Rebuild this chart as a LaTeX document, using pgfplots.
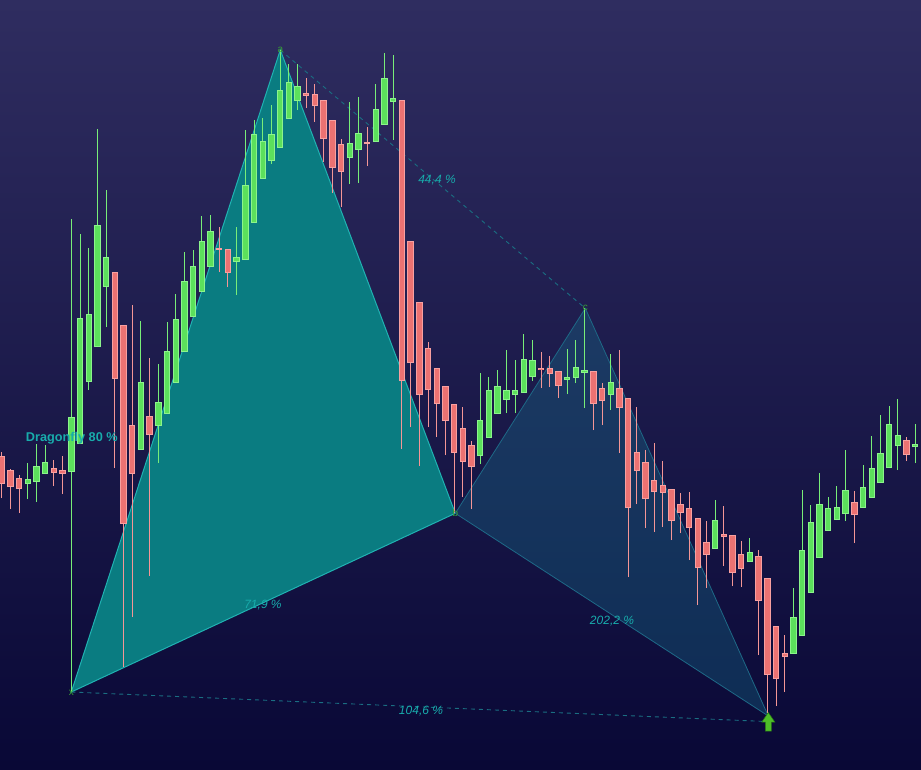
\documentclass[border=0pt]{standalone}
\usepackage{pgfplots}
\pgfplotsset{compat=1.18}
\usepackage{pgfplotstable}
\usepackage{fontspec}
\setmainfont{Liberation Sans}

\definecolor{bgtop}{RGB}{47,45,96}
\definecolor{bgmid}{RGB}{27,25,80}
\definecolor{bgbot}{RGB}{9,8,54}
\definecolor{xabfill}{RGB}{10,124,129}
\definecolor{xabedge}{RGB}{32,178,178}
\definecolor{bcdfill}{RGB}{22,125,150}
\definecolor{bcdedge}{RGB}{30,105,135}
\definecolor{dashcol}{RGB}{26,110,130}
\definecolor{lbl}{RGB}{24,172,172}
\definecolor{ptcol}{RGB}{55,160,55}
\definecolor{gfill}{RGB}{92,224,92}
\definecolor{gborder}{RGB}{140,244,140}
\definecolor{gwick}{RGB}{120,238,120}
\definecolor{rfill}{RGB}{236,114,114}
\definecolor{rborder}{RGB}{248,160,160}
\definecolor{rwick}{RGB}{244,150,150}
\definecolor{arrowgreen}{RGB}{78,190,40}
\definecolor{arrowdark}{RGB}{40,120,20}

% candles, pixel rows: body top, body bottom, high, low
\pgfplotstableread{
i top bot h l
-8 456 484 452 498
-7 470 487 469 509
-6 478 489 475 513
-2 468 473 460 486
-1 470 474 456 494
5 272 379 272 468
6 325 524 325 667
7 425 474 305 617
9 416 435 358 576
17 248 250 227 272
18 249 273 249 287
27 93 96 78 108
28 94 106 84 122
29 100 139 100 162
30 120 168 120 193
31 144 172 139 207
34 142 144 127 166
38 100 381 100 449
39 241 363 241 427
40 302 395 302 466
41 348 390 342 427
42 368 404 368 437
43 386 421 386 455
44 404 453 404 513
45 428 462 407 497
46 445 467 441 509
54 368 369.8 352 388
55 368 374 356 387
56 371 386 371 398
60 371 404 371 430
61 388 401 383 425
63 388 408 350 453
64 398 508 398 577
65 452 471 407 504
66 462 499 450 528
67 480 492 443 532
68 485 493 461 527
69 489 521 489 540
70 504 513 493 533
71 508 528 492 560
72 518 568 518 605
73 542 555 521 588
75 534 537 506 566
76 535 573 535 586
77 554 569 541 587
79 556 601 550 655
80 578 675 578 713
81 626 679 626 706
82 653 657 635 692
90 502 515 491 543
96 440 455 437 461
}\redcandles

\pgfplotstableread{
i top bot h l
-5 479 484 463 499
-4 466 482 444 502
-3 462 474 445 474
0 417 472 219 692
1 318 444 234 444
2 314 382 248 390
3 225 347 129 347
4 257 287 190 327
8 382 450 321 450
10 402 426 364 463
11 351 414 322 414
12 319 383 294 383
13 281 352 252 352
14 266 317 250 317
15 241 292 216 292
16 231 267 215 267
19 257 262 227 295
20 185 260 130 260
21 134 223 120 223
22 141 179 118 179
23 134 161 105 164
24 90 148 50 148
25 82 119 64 119
26 86 101 64 110
32 143 158 102 184
33 133 150 97 183
35 109 142 84 142
36 78 125 53 125
37 98 102 55 140
47 420 456 373 464
48 390 438 377 438
49 386 414 370 414
50 390 400 350 413
51 390 395 360 413
52 359 393 334 393
53 360 377 340 381
57 377 379.8 349 394
58 367 378 340 383
59 370 372.8 308 408
62 382 395 354 410
74 520 549 500 549
78 552 562 538 562
83 617 654 588 654
84 550 636 490 636
85 522 593 505 593
86 504 558 473 558
87 508 531 497 531
88 507 520 486 520
89 490 514 450 521
91 487 508 465 508
92 468 498 436 498
93 453 483 415 483
94 424 468 406 468
95 435 446 399 470
97 444 447 424 463
}\greencandles

\pgfplotsset{
  wick/.style={draw=none, mark=none, forget plot,
    error bars/.cd, y dir=minus, y explicit, error mark=none,
    error bar style={solid, line width=1pt, draw=#1}},
  body/.style n args={3}{draw=none, mark=none, forget plot,
    error bars/.cd, y dir=minus, y explicit, error mark=none,
    error bar style={solid, line width=#1, draw=#2, shorten <=#3, shorten >=#3}},
}

\begin{document}
\begin{tikzpicture}
\begin{axis}[
  width=921pt, height=770pt, scale only axis,
  xmin=0, xmax=921, ymin=0, ymax=770, y dir=reverse,
  hide axis, clip=true,
]
\shade[top color=bgtop, middle color=bgmid, bottom color=bgbot]
  (axis cs:0,0) rectangle (axis cs:921,770);

% harmonic pattern x-a-b and b-c-d
\addplot[fill=xabfill, draw=xabedge, line width=1pt]
  coordinates {(71.3,692) (280.3,50) (455.3,513.3)} -- cycle;
\addplot[fill=bcdfill, fill opacity=0.3, draw=bcdedge, line width=0.8pt]
  coordinates {(455.3,513.3) (585.3,308.3) (768.3,716)} -- cycle;
\addplot[draw=dashcol, line width=0.9pt, dash pattern=on 4pt off 4pt]
  coordinates {(280.3,50) (585.3,308.3)};
\addplot[draw=dashcol, line width=0.9pt, dash pattern=on 4pt off 4pt]
  coordinates {(71.3,692) (766,721.5)};

% wicks
\addplot[wick=rwick] table[x expr=71.3+8.7*\thisrow{i}, y=l,
  y error minus expr=\thisrow{l}-\thisrow{h}] \redcandles;
\addplot[wick=gwick] table[x expr=71.3+8.7*\thisrow{i}, y=l,
  y error minus expr=\thisrow{l}-\thisrow{h}] \greencandles;

% bodies: outline, then fill
\addplot[body={6.4pt}{rborder}{0pt}] table[x expr=71.3+8.7*\thisrow{i}, y=bot,
  y error minus expr=\thisrow{bot}-\thisrow{top}] \redcandles;
\addplot[body={4.4pt}{rfill}{1pt}] table[x expr=71.3+8.7*\thisrow{i}, y=bot,
  y error minus expr=\thisrow{bot}-\thisrow{top}] \redcandles;
\addplot[body={6.4pt}{gborder}{0pt}] table[x expr=71.3+8.7*\thisrow{i}, y=bot,
  y error minus expr=\thisrow{bot}-\thisrow{top}] \greencandles;
\addplot[body={4.4pt}{gfill}{1pt}] table[x expr=71.3+8.7*\thisrow{i}, y=bot,
  y error minus expr=\thisrow{bot}-\thisrow{top}] \greencandles;

% buy arrow at d
\addplot[fill=arrowgreen, draw=arrowdark, line width=0.5pt]
  coordinates {(761.8,722) (768.3,712.5) (774.8,722) (771.3,722)
               (771.3,731) (765.3,731) (765.3,722)} -- cycle;

% point letters
\node[text=ptcol, font=\fontsize{10}{10}\selectfont] at (axis cs:71.3,693) {x};
\node[text=ptcol, font=\fontsize{10}{10}\selectfont] at (axis cs:280.3,50) {a};
\node[text=ptcol, font=\fontsize{10}{10}\selectfont] at (axis cs:455.3,513) {b};
\node[text=ptcol, font=\fontsize{10}{10}\selectfont] at (axis cs:585.3,308) {c};

% ratios
\node[text=lbl, anchor=base, font=\fontsize{12}{12}\selectfont\itshape]
  at (axis cs:437,184) {44,4 \%};
\node[text=lbl, anchor=base, font=\fontsize{12}{12}\selectfont\itshape]
  at (axis cs:263,608) {71,9 \%};
\node[text=lbl, anchor=base, font=\fontsize{12}{12}\selectfont\itshape]
  at (axis cs:612,624) {202,2 \%};
\node[text=lbl, anchor=base, font=\fontsize{12}{12}\selectfont\itshape]
  at (axis cs:421,714) {104,6 \%};
\node[text=lbl, anchor=base west, inner sep=0pt,
  font=\fontsize{12.7}{12.7}\selectfont\bfseries]
  at (axis cs:25.7,441) {Dragonfly 80 \%};
\end{axis}
\end{tikzpicture}
\end{document}
